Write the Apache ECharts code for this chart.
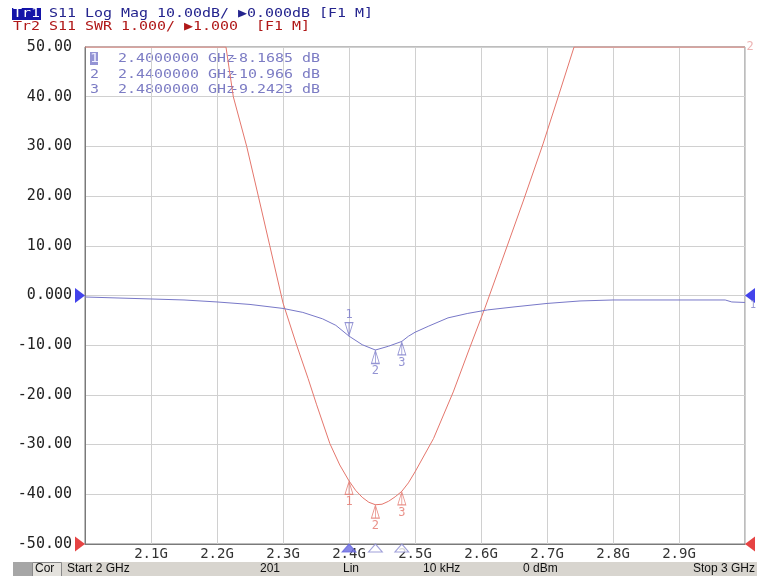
<!DOCTYPE html>
<html><head><meta charset="utf-8">
<script src="https://cdn.jsdelivr.net/npm/echarts@6/dist/echarts.min.js"></script>
<style>html,body{margin:0;padding:0;background:#fff}#c{width:757px;height:576px}</style>
</head><body><div id="c"></div>
<script>
// ---- data ----
const freqS11 = [2.00,2.05,2.10,2.15,2.20,2.25,2.30,2.33,2.36,2.38,2.40,2.42,2.44,2.46,2.48,2.49,2.50,2.52,2.55,2.58,2.61,2.65,2.70,2.75,2.80,2.90,2.97,2.98,3.00];
const s11dB   = [-0.3,-0.5,-0.7,-0.9,-1.3,-1.8,-2.6,-3.4,-4.7,-6.0,-8.17,-9.9,-10.97,-10.2,-9.24,-8.2,-7.4,-6.2,-4.5,-3.6,-2.9,-2.3,-1.6,-1.1,-0.9,-0.9,-0.9,-1.3,-1.4];
const freqSWR = [2.000,2.2136,2.2247,2.245,2.2626,2.280,2.300,2.3207,2.338,2.351,2.371,2.386,2.400,2.410,2.420,2.430,2.440,2.450,2.460,2.470,2.480,2.490,2.500,2.528,2.558,2.583,2.606,2.629,2.664,2.694,2.717,2.741,3.000];
const swrVals = [11,11,10,9,8,7,5.85,5.0,4.33,3.8,3.02,2.59,2.27,2.08,1.94,1.84,1.79,1.80,1.86,1.95,2.06,2.23,2.45,3.12,4.06,4.95,5.75,6.6,7.9,9.05,10.0,11,11];
const markerFreqs = [2.40, 2.44, 2.48];
const markerS11 = [-8.1685, -10.966, -9.2423];
const markerSWR = [2.27, 1.79, 2.06];
const xTickLabels = ['2.1G','2.2G','2.3G','2.4G','2.5G','2.6G','2.7G','2.8G','2.9G'];
const yTickLabels = ['-50.00','-40.00','-30.00','-20.00','-10.00','0.000','10.00','20.00','30.00','40.00','50.00'];

const BLUE = '#7878c8', RED = '#e4766c';
const MONO = 'DejaVu Sans Mono';
const upPath = 'path://M5 0 L10 14 L0 14 Z M5 0 L5 14';
const downPath = 'path://M0 0 L10 0 L5 14 Z M5 0 L5 14';
const rightPath = 'path://M0 0 L10 7 L0 14 Z';
const leftPath = 'path://M10 0 L0 7 L10 14 Z';

const chart = echarts.init(document.getElementById('c'), null, {renderer:'canvas'});

function mtext(x, y, text, fill) {
  return {type:'text', x:x, y:y, scaleX:1.15, style:{text:text, fill:fill, font:'13px '+MONO, verticalAlign:'middle'}};
}

const tableEls = [];
markerFreqs.forEach((f, i) => {
  const y = 59 + i * 15.5;
  if (i === 0) tableEls.push({type:'rect', shape:{x:90, y:y-7, width:8, height:13}, style:{fill:'#9494d4'}});
  tableEls.push(mtext(90, y, String(i+1), i===0?'#eeeeff':'#7c7cc4'));
  tableEls.push(mtext(118, y, f.toFixed(7)+' GHz', '#7c7cc4'));
  tableEls.push(mtext(230, y, markerS11[i].toPrecision(5)+' dB', '#7c7cc4'));
});

const option = {
  animation: false,
  backgroundColor: '#fff',
  grid: {left:85, right:12, top:47, bottom:32, show:true, borderColor:'#7a7a7a', borderWidth:1, backgroundColor:'#fff'},
  xAxis: {
    type:'value', min:2, max:3, interval:0.1,
    axisLine:{show:true, onZero:false, lineStyle:{color:'#7a7a7a'}},
    axisTick:{show:false},
    splitLine:{show:true, lineStyle:{color:'#d0d0d0', width:1}},
    axisLabel:{color:'#333', fontFamily:MONO, fontSize:14, margin:3,
      formatter: v => { const k = Math.round((v-2)*10); return (k>=1 && k<=9) ? xTickLabels[k-1] : ''; }}
  },
  yAxis: [{
    type:'value', min:-50, max:50, interval:10,
    axisLine:{show:true, onZero:false, lineStyle:{color:'#7a7a7a'}},
    axisTick:{show:false},
    splitLine:{show:true, lineStyle:{color:'#d0d0d0', width:1}},
    axisLabel:{color:'#222', fontFamily:MONO, fontSize:15, margin:13,
      formatter: v => yTickLabels[Math.round((v+50)/10)]}
  },{
    type:'value', min:1, max:11, interval:1, show:false,
    splitLine:{show:false}
  }],
  series: [
    {type:'line', yAxisIndex:0, data: freqS11.map((f,i)=>[f, s11dB[i]]), symbol:'none', smooth:false,
     lineStyle:{color:BLUE, width:1}, z:3},
    {type:'line', yAxisIndex:1, data: freqSWR.map((f,i)=>[f, swrVals[i]]), symbol:'none', smooth:false,
     lineStyle:{color:RED, width:1}, z:2},
    {type:'scatter', yAxisIndex:0, z:5,
     data: markerFreqs.map((f,i)=>({value:[f, markerS11[i]], symbol: i===0?downPath:upPath, symbolOffset: i===0?[0,-7]:[0,7],
       label:{show:true, formatter:String(i+1), position: i===0?'top':'bottom', distance:1}})),
     symbolSize:[8,13], itemStyle:{color:'rgba(255,255,255,0)', borderColor:BLUE, borderWidth:1},
     label:{color:BLUE, fontFamily:MONO, fontSize:12}},
    {type:'scatter', yAxisIndex:1, z:5,
     data: markerFreqs.map((f,i)=>({value:[f, markerSWR[i]], symbol:upPath, symbolOffset:[0,7],
       label:{show:true, formatter:String(i+1), position:'bottom', distance:1}})),
     symbolSize:[8,13], itemStyle:{color:'rgba(255,255,255,0)', borderColor:RED, borderWidth:1},
     label:{color:RED, fontFamily:MONO, fontSize:12}},
    // stimulus markers on the frequency axis
    {type:'scatter', yAxisIndex:0, z:6, clip:false,
     data: markerFreqs.map((f,i)=>({value:[f, -50], itemStyle: i===0?{color:'#6666e0', borderColor:'#6666e0'}:{color:'#fff', borderColor:'#8888d0', borderWidth:1}})),
     symbol:'triangle', symbolSize:[14,8], symbolOffset:[0,4]},
    // reference-level triangles at the sides
    {type:'scatter', yAxisIndex:0, z:6, clip:false, symbolSize:[10,15],
     data:[
       {value:[2,0], symbol:rightPath, symbolOffset:[-5,0], itemStyle:{color:'#1414e6'}},
       {value:[3,0], symbol:leftPath, symbolOffset:[5,0], itemStyle:{color:'#1414e6'},
        label:{show:true, formatter:'1', position:'bottom', distance:-3, offset:[3,0], color:'#8080c8', fontSize:10, fontFamily:MONO}},
       {value:[2,-50], symbol:rightPath, symbolOffset:[-5,0], itemStyle:{color:'#e01414'}},
       {value:[3,-50], symbol:leftPath, symbolOffset:[5,0], itemStyle:{color:'#e01414'}}
     ]},
    {type:'scatter', yAxisIndex:1, z:6, clip:false, symbol:'circle', symbolSize:1,
     itemStyle:{color:'rgba(0,0,0,0)'},
     data:[{value:[3,11], label:{show:true, formatter:'2', position:'right', distance:1, color:'#e8a0a0', fontSize:12, fontFamily:MONO}}]}
  ],
  graphic: [
    {type:'rect', shape:{x:12, y:8, width:29, height:12}, style:{fill:'#1414a8'}},
    mtext(13, 14, 'Tr1', '#ffffff'),
    mtext(49, 14, 'S11 Log Mag 10.00dB/ \u25B60.000dB [F1 M]', '#24248e'),
    mtext(13, 26.5, 'Tr2 S11 SWR 1.000/ \u25B61.000  [F1 M]', '#b01818'),
    ...tableEls,
    // status bar
    {type:'rect', shape:{x:13, y:562, width:744, height:14}, style:{fill:'#d8d5cf'}},
    {type:'rect', shape:{x:13, y:562, width:19, height:14}, style:{fill:'#a6a6a6'}},
    {type:'rect', shape:{x:32.5, y:562.5, width:29, height:14}, style:{fill:'#e4e2dd', stroke:'#8a8a8a', lineWidth:1}},
    {type:'text', x:35, y:563, style:{text:'Cor', fill:'#111', font:'12px Liberation Sans', verticalAlign:'top'}},
    {type:'text', x:67, y:563, style:{text:'Start 2 GHz', fill:'#111', font:'12px Liberation Sans', verticalAlign:'top'}},
    {type:'text', x:260, y:563, style:{text:'201', fill:'#111', font:'12px Liberation Sans', verticalAlign:'top'}},
    {type:'text', x:343, y:563, style:{text:'Lin', fill:'#111', font:'12px Liberation Sans', verticalAlign:'top'}},
    {type:'text', x:423, y:563, style:{text:'10 kHz', fill:'#111', font:'12px Liberation Sans', verticalAlign:'top'}},
    {type:'text', x:523, y:563, style:{text:'0 dBm', fill:'#111', font:'12px Liberation Sans', verticalAlign:'top'}},
    {type:'text', x:755, y:563, style:{text:'Stop 3 GHz', fill:'#111', font:'12px Liberation Sans', verticalAlign:'top', align:'right'}}
  ]
};
chart.setOption(option);
</script></body></html>
